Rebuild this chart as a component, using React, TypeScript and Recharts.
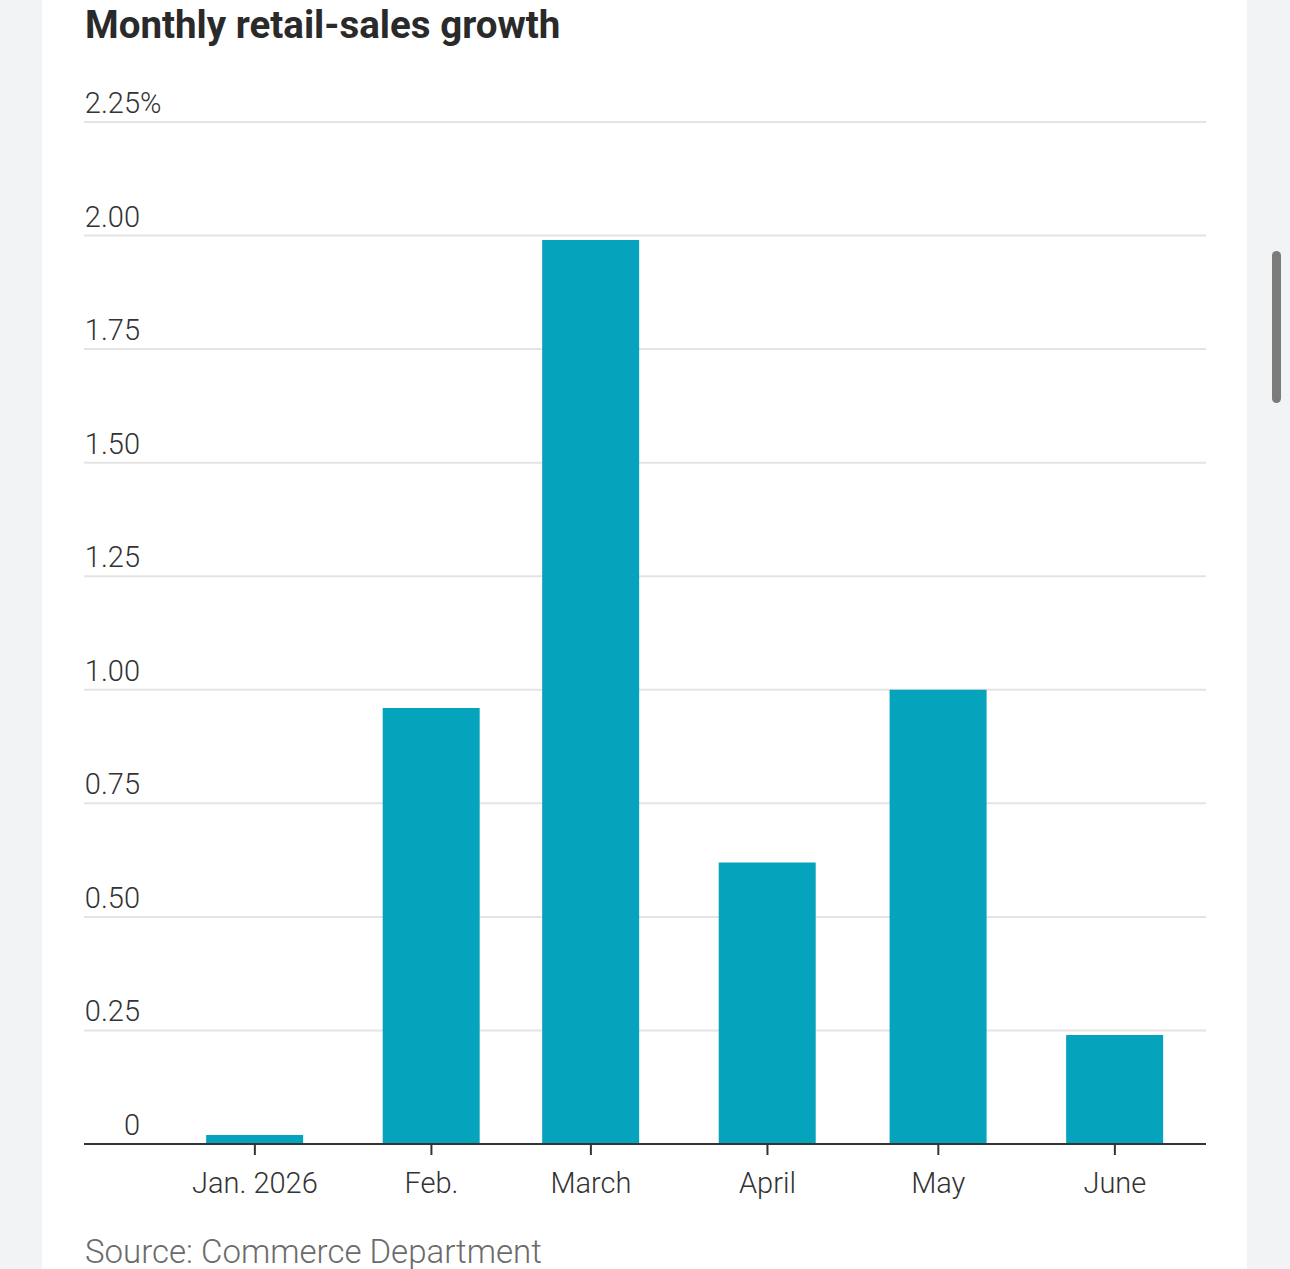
import { BarChart, Bar, XAxis, YAxis, CartesianGrid } from 'recharts';

// Monthly retail-sales growth, percent change from previous month
const months = ['2026-01-01', '2026-02-01', '2026-03-01', '2026-04-01', '2026-05-01', '2026-06-01'];
const monthLabels = ['Jan. 2026', 'Feb.', 'March', 'April', 'May', 'June'];
const growth = [0.02, 0.96, 1.99, 0.62, 1.0, 0.24];
const yTicks = [0, 0.25, 0.5, 0.75, 1.0, 1.25, 1.5, 1.75, 2.0, 2.25];
const xDomainDates = ['2025-12-02', '2026-06-17'];

const toTime = (d: string) => Date.parse(d + 'T00:00:00Z');

const data = months.map((m, i) => ({ t: toTime(m), value: growth[i] }));
const monthTicks = months.map(toTime);
const xDomain = xDomainDates.map(toTime);

const W = 1290;
const H = 1269;
const LABEL_RIGHT = 140;
const TEXT = '#333333';
const FONT = 'Roboto, "Liberation Sans", sans-serif';

const formatY = (v: number) => (v === 0 ? '0' : v.toFixed(2));

// y labels sit above their gridline, right-aligned; the top one carries the unit
const YTick = (props: any) => {
  const { y, payload } = props;
  const isTop = payload.value === yTicks[yTicks.length - 1];
  const common = {
    y: y - 9,
    fill: TEXT,
    fontSize: 29,
    fontWeight: 300,
    fontFamily: FONT,
  };
  return (
    <g>
      <text x={LABEL_RIGHT} textAnchor="end" {...common}>
        {formatY(payload.value)}
      </text>
      {isTop && (
        <text x={LABEL_RIGHT} textAnchor="start" {...common}>
          %
        </text>
      )}
    </g>
  );
};

const XTick = (props: any) => {
  const { x, y, payload } = props;
  const idx = monthTicks.indexOf(payload.value);
  return (
    <text
      x={x}
      y={y + 36}
      textAnchor="middle"
      fill={TEXT}
      fontSize={29}
      fontWeight={300}
      fontFamily={FONT}
    >
      {idx >= 0 ? monthLabels[idx] : ''}
    </text>
  );
};

export default function App() {
  return (
    <div
      style={{
        position: 'fixed',
        left: 0,
        top: 0,
        width: W,
        height: H,
        overflow: 'hidden',
        background: '#f2f3f5',
        fontFamily: FONT,
      }}
    >
      {/* card */}
      <div
        style={{
          position: 'absolute',
          left: 42,
          top: 0,
          width: 1205,
          height: H,
          background: '#ffffff',
        }}
      />
      {/* scrollbar thumb */}
      <div
        style={{
          position: 'absolute',
          left: 1272,
          top: 251,
          width: 9,
          height: 152,
          borderRadius: 5,
          background: '#7b7b7b',
        }}
      />
      <div
        style={{
          position: 'absolute',
          left: 85,
          top: 2,
          fontSize: 38.5,
          fontWeight: 700,
          color: '#2a2a2a',
          whiteSpace: 'nowrap',
        }}
      >
        Monthly retail-sales growth
      </div>
      <div style={{ position: 'absolute', left: 0, top: 0 }}>
        <BarChart
          width={W}
          height={H}
          data={data}
          margin={{ top: 122, right: 84, bottom: 65, left: 44 }}
        >
          <CartesianGrid vertical={false} stroke="#e4e4e4" strokeWidth={2} />
          <XAxis
            dataKey="t"
            type="number"
            scale="linear"
            domain={xDomain}
            ticks={monthTicks}
            interval={0}
            height={60}
            axisLine={{ stroke: '#333333', strokeWidth: 2 }}
            tickLine={{ stroke: '#333333', strokeWidth: 2 }}
            tickSize={11}
            tick={<XTick />}
          />
          <YAxis
            type="number"
            domain={[0, 2.25]}
            ticks={yTicks}
            interval={0}
            width={40}
            axisLine={false}
            tickLine={false}
            tick={<YTick />}
          />
          <Bar dataKey="value" fill="#06a3bc" barSize={97} isAnimationActive={false} />
        </BarChart>
      </div>
      <div
        style={{
          position: 'absolute',
          left: 85,
          top: 1232,
          fontSize: 33,
          fontWeight: 300,
          color: '#6b6b6b',
          whiteSpace: 'nowrap',
        }}
      >
        Source: Commerce Department
      </div>
    </div>
  );
}
